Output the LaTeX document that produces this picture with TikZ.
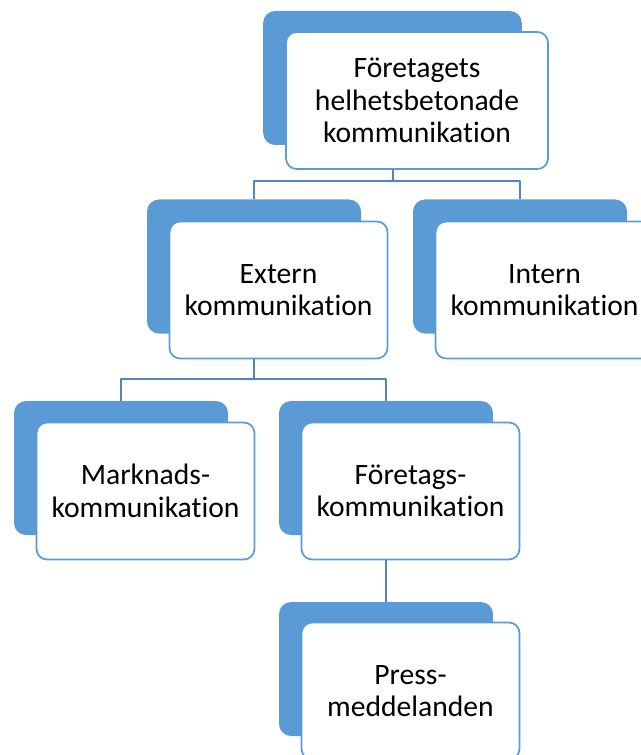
\documentclass[tikz,border=0pt]{standalone}
\usepackage{fontspec}
\setmainfont{Carlito}[Ligatures=NoCommon]
\usetikzlibrary{positioning}
\definecolor{accent}{HTML}{5B9BD5}
\definecolor{linkblue}{HTML}{4F86BD}
\begin{document}
\begin{tikzpicture}[x=0.75pt,y=-0.75pt,line join=round,
		font=\fontsize{22.2}{24.3}\selectfont,
		back/.style={fill=accent,rounded corners=9pt,minimum width=160.5pt,minimum height=100.5pt,inner sep=0pt},
		front/.style={draw=accent,line width=1.3pt,fill=white,rounded corners=8pt,minimum width=163.5pt,minimum height=102.75pt,inner sep=0pt,align=center},
		link/.style={draw=linkblue,line width=1.5pt}]
			\clip (0,0) rectangle (641,755);
			% top level
			\node[back,minimum width=194pt] (topbg) at (392.5,78) {};
			\node[front,minimum width=196.5pt] (top) at ([shift={(24.5,22.5)}]topbg.center) {Företagets\\helhetsbetonade\\kommunikation};
			% second level
			\node[back] (extbg) at (254,266.5) {};
			\node[front] (ext) at ([shift={(24.5,23.5)}]extbg.center) {Extern\\kommunikation};
			\node[back] (intbg) at (520,266.5) {};
			\node[front] (int) at ([shift={(24.5,23.5)}]intbg.center) {Intern\\kommunikation};
			% third level
			\node[back] (markbg) at (121,468) {};
			\node[front] (mark) at ([shift={(24.5,23)}]markbg.center) {Marknads-\\kommunikation};
			\node[back] (ftgbg) at (386,468) {};
			\node[front] (ftg) at ([shift={(24.5,23)}]ftgbg.center) {Företags-\\kommunikation};
			\node[back] (pressbg) at (386,669) {};
			\node[front] (press) at ([shift={(24.5,22)}]pressbg.center) {Press-\\meddelanden};
			% connectors
			\draw[link] (top.south -| topbg.center) -- ++(0,11) -| (extbg.north);
			\draw[link] (top.south -| topbg.center) -- ++(0,11) -| (intbg.north);
			\draw[link] (ext.south -| extbg.center) -- ++(0,20) -| (markbg.north);
			\draw[link] (ext.south -| extbg.center) -- ++(0,20) -| (ftgbg.north);
			\draw[link] (ftg.south -| ftgbg.center) -- (pressbg.north);
		\end{tikzpicture}
\end{document}
